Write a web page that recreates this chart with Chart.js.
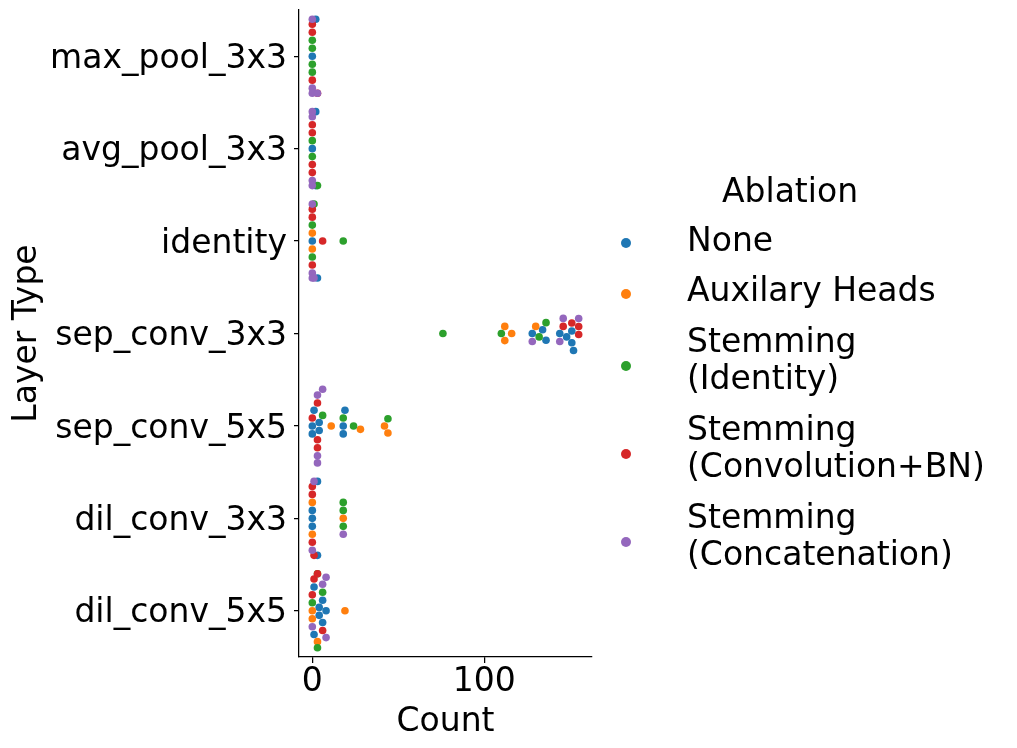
<!DOCTYPE html>
<html>
<head>
<meta charset="utf-8">
<script src="https://cdn.jsdelivr.net/npm/chart.js@4.4.1/dist/chart.umd.min.js"></script>
<style>
  html, body { margin: 0; padding: 0; background: #fff; }
  #wrap { position: relative; width: 1017px; height: 748px; font-family: "DejaVu Sans", sans-serif; }
  #legend { position: absolute; left: 612px; top: 172px; width: 400px; font-size: 33px; line-height: 37.5px; color: #000; white-space: nowrap; }
  #legend .title { width: 356px; text-align: center; margin-bottom: 11px; }
  #legend .row { position: relative; padding-left: 75px; margin-bottom: 13px; }
  #legend .dot { position: absolute; left: 9px; width: 10px; height: 10px; border-radius: 50%; }
</style>
</head>
<body>
<div id="wrap">
  <canvas id="chart" width="1017" height="748"></canvas>
  <div id="legend"></div>
</div>
<script>
const LAYER_TYPES = ['max_pool_3x3', 'avg_pool_3x3', 'identity', 'sep_conv_3x3', 'sep_conv_5x5', 'dil_conv_3x3', 'dil_conv_5x5'];
const ABLATIONS = ['None', 'Auxilary Heads', 'Stemming\n(Identity)', 'Stemming\n(Convolution+BN)', 'Stemming\n(Concatenation)'];
const COLORS = ['#1f77b4', '#ff7f0e', '#2ca02c', '#d62728', '#9467bd'];

// counts per layer type (same order as LAYER_TYPES), one list per ablation
const NONE = [[0, 2], [0, 2, 2], [0, 3], [128, 134, 136, 144, 148, 151, 151, 152], [0, 0, 1, 4, 4, 18, 18, 19], [0, 0, 0, 3, 3], [1, 1, 4, 4, 6, 6, 8]];
const AUX_HEADS = [[], [], [0, 0], [112, 112, 116, 130], [11, 28, 42, 44], [0, 0, 18], [0, 0, 3, 19]];
const STEM_IDENTITY = [[0, 0, 0, 0], [0, 0, 3], [0, 0, 1, 18], [76, 110, 132, 136], [6, 18, 24, 44], [18, 18, 18], [0, 3, 3, 6]];
const STEM_CONV_BN = [[0, 0, 0, 3], [0, 0, 0, 0], [0, 0, 0, 6], [146, 151, 155, 155], [0, 3, 3, 3], [0, 0, 0, 1], [0, 1, 3, 6]];
const STEM_CONCAT = [[0, 0, 0, 3], [0, 0, 0, 0], [0, 0, 0, 1], [128, 144, 146, 155], [3, 3, 3, 6], [0, 1, 18], [0, 6, 8, 8]];
const SERIES = [NONE, AUX_HEADS, STEM_IDENTITY, STEM_CONV_BN, STEM_CONCAT];

const X_TICKS = [0, 100];

const FONT = { family: '"DejaVu Sans", sans-serif', size: 33 };
const R = 3.8;      // marker radius in px
const GAP = 1.05;   // seaborn spacing factor

// x limits like seaborn: data range plus 5% on each side
const allVals = SERIES.flat(2);
const vMin = Math.min(...allVals), vMax = Math.max(...allVals);
const X_MIN = vMin - 0.05 * (vMax - vMin);
const X_MAX = vMax + 0.05 * (vMax - vMin);

// seaborn-style beeswarm, pts sorted by pixel position along the value axis
function beeswarm(pts, halfWidth) {
  const placed = [];
  pts.forEach((p, i) => {
    if (i === 0) { placed.push({ v: p.v, o: 0, p }); return; }
    const nb = [];
    for (let j = placed.length - 1; j >= 0; j--) {
      if (p.v - placed[j].v < 2 * R) nb.push(placed[j]); else break;
    }
    const cands = [0];
    let leftFirst = true;
    nb.forEach(q => {
      const dv = p.v - q.v;
      const d = Math.sqrt(Math.max(4 * R * R - dv * dv, 0)) * GAP;
      if (leftFirst) cands.push(q.o - d, q.o + d); else cands.push(q.o + d, q.o - d);
      leftFirst = !leftFirst;
    });
    const order = cands.map((c, k) => k).sort((a, b) => Math.abs(cands[a]) - Math.abs(cands[b]) || a - b);
    let off = 0;
    for (const k of order) {
      const c = cands[k];
      if (nb.every(q => (q.o - c) ** 2 + (q.v - p.v) ** 2 >= 4 * R * R - 1e-6)) { off = c; break; }
    }
    placed.push({ v: p.v, o: off, p });
  });
  // gutters: points that spill out of the category band are pinned to its edge
  placed.forEach(q => { q.o = Math.max(-halfWidth, Math.min(halfWidth, q.o)); });
  return placed;
}

function layoutSwarm(chart) {
  const xs = chart.scales.x, ys = chart.scales.y;
  const unit = Math.abs(ys.getPixelForValue(1) - ys.getPixelForValue(0));
  chart.data.datasets.forEach(ds => { ds.data = []; });
  LAYER_TYPES.forEach((name, ci) => {
    const pts = [];
    SERIES.forEach((arr, si) => arr[ci].forEach(v => pts.push({ v: xs.getPixelForValue(v), value: v, si })));
    pts.sort((a, b) => a.v - b.v);
    const center = ys.getPixelForValue(ci);
    beeswarm(pts, 0.4 * unit).forEach(q => {
      // offsets follow matplotlib display coords (y up)
      chart.data.datasets[q.p.si].data.push({ x: q.p.value, y: ys.getValueForPixel(center - q.o) });
    });
  });
  chart.update('none');
}

const datasets = ABLATIONS.map((label, si) => ({
  label: label,
  data: LAYER_TYPES.flatMap((_, ci) => SERIES[si][ci].map(v => ({ x: v, y: ci }))),
  backgroundColor: COLORS[si],
  borderWidth: 0,
  pointRadius: R,
  pointHoverRadius: R,
  order: ABLATIONS.length - 1 - si,
  clip: false,
}));

const chart = new Chart(document.getElementById('chart'), {
  type: 'scatter',
  data: { datasets },
  options: {
    responsive: false,
    animation: false,
    events: [],
    layout: { padding: { left: 0, right: 425, top: 10, bottom: 0 } },
    plugins: { legend: { display: false }, tooltip: { enabled: false } },
    scales: {
      x: {
        type: 'linear',
        min: X_MIN,
        max: X_MAX,
        afterBuildTicks: s => { s.ticks = X_TICKS.map(v => ({ value: v })); },
        afterFit: s => { s.height = 91; s.paddingLeft = 0; s.paddingRight = 0; },
        ticks: { font: FONT, color: '#000', padding: 0 },
        grid: { drawOnChartArea: false, tickLength: 6, color: '#000', lineWidth: 1.25 },
        border: { color: '#000', width: 1.25 },
        title: { display: true, text: 'Count', font: FONT, color: '#000', padding: { top: 0, bottom: 6 } },
      },
      y: {
        type: 'linear',
        min: -0.5,
        max: 6.5,
        reverse: true,
        afterBuildTicks: s => { s.ticks = LAYER_TYPES.map((_, i) => ({ value: i })); },
        afterFit: s => { s.width = 299; s.paddingTop = 0; s.paddingBottom = 0; },
        ticks: { callback: v => LAYER_TYPES[v], autoSkip: false, font: FONT, color: '#000', padding: 7, labelOffset: 3 },
        grid: { drawOnChartArea: false, tickLength: 5, color: '#000', lineWidth: 1.25 },
        border: { color: '#000', width: 1.25 },
        title: { display: true, text: 'Layer Type', font: FONT, color: '#000', padding: { top: 8, bottom: 0 } },
      },
    },
  },
});
layoutSwarm(chart);

const legend = document.getElementById('legend');
legend.innerHTML = '<div class="title">Ablation</div>';
ABLATIONS.forEach((label, i) => {
  const lines = label.split('\n');
  const row = document.createElement('div');
  row.className = 'row';
  row.innerHTML = '<span class="dot" style="background:' + COLORS[i] + ';top:' + (lines.length === 1 ? 17.5 : 39.5) + 'px"></span>' +
    lines.map(l => '<div>' + l + '</div>').join('');
  legend.appendChild(row);
});
</script>
</body>
</html>
